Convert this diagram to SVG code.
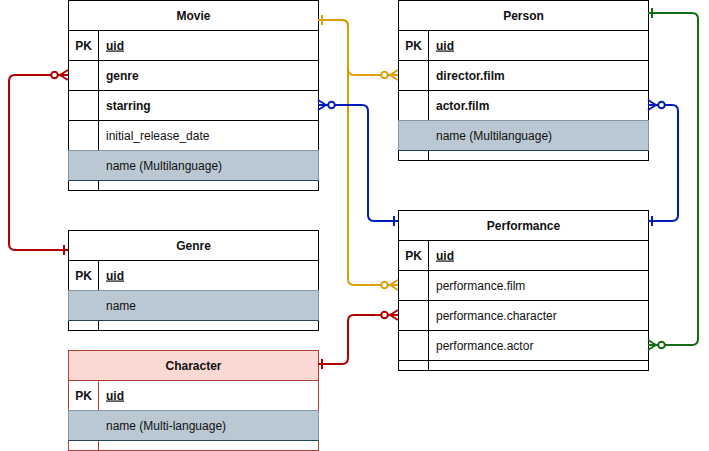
<svg xmlns="http://www.w3.org/2000/svg" width="709" height="451" viewBox="0 0 709 451">
<style>
text{font-family:"Liberation Sans",Arial,sans-serif;font-size:12px;fill:#111}
.h{font-weight:bold;text-anchor:middle}
.pk{font-weight:bold;text-anchor:middle}
.b{font-weight:bold}
.u{font-weight:bold;text-decoration:underline}
.box{fill:#fff;stroke:#000;stroke-width:1}
.ln{stroke:#000;stroke-width:1;fill:none}
.gr{fill:#bac8d3;stroke:#8796a3;stroke-width:1}
.grb{stroke:#23445d;stroke-width:1}
.rbox{fill:#fff;stroke:#ae4132;stroke-width:1}
.rln{stroke:#ae4132;stroke-width:1;fill:none}
.c{fill:none;stroke-width:2;stroke-linejoin:round}
</style>
<defs>
<marker id="zmR" markerUnits="userSpaceOnUse" markerWidth="1" markerHeight="1" overflow="visible" orient="auto-start-reverse"><path d="M-8 0L0 -5M-8 0L0 5M-8 0L0 0" fill="none" stroke="#B20000" stroke-width="2"/><circle cx="-13.5" cy="0" r="3.3" fill="#fff" stroke="#B20000" stroke-width="2"/></marker>
<marker id="oR" markerUnits="userSpaceOnUse" markerWidth="1" markerHeight="1" overflow="visible" orient="auto-start-reverse"><path d="M-4 -5L-4 5" stroke="#B20000" stroke-width="2"/></marker>
<marker id="zmY" markerUnits="userSpaceOnUse" markerWidth="1" markerHeight="1" overflow="visible" orient="auto-start-reverse"><path d="M-8 0L0 -5M-8 0L0 5M-8 0L0 0" fill="none" stroke="#d99f05" stroke-width="2"/><circle cx="-13.5" cy="0" r="3.3" fill="#fff" stroke="#d99f05" stroke-width="2"/></marker>
<marker id="oY" markerUnits="userSpaceOnUse" markerWidth="1" markerHeight="1" overflow="visible" orient="auto-start-reverse"><path d="M-4 -5L-4 5" stroke="#d99f05" stroke-width="2"/></marker>
<marker id="zmB" markerUnits="userSpaceOnUse" markerWidth="1" markerHeight="1" overflow="visible" orient="auto-start-reverse"><path d="M-8 0L0 -5M-8 0L0 5M-8 0L0 0" fill="none" stroke="#001DBC" stroke-width="2"/><circle cx="-13.5" cy="0" r="3.3" fill="#fff" stroke="#001DBC" stroke-width="2"/></marker>
<marker id="oB" markerUnits="userSpaceOnUse" markerWidth="1" markerHeight="1" overflow="visible" orient="auto-start-reverse"><path d="M-4 -5L-4 5" stroke="#001DBC" stroke-width="2"/></marker>
<marker id="zmG" markerUnits="userSpaceOnUse" markerWidth="1" markerHeight="1" overflow="visible" orient="auto-start-reverse"><path d="M-8 0L0 -5M-8 0L0 5M-8 0L0 0" fill="none" stroke="#146b14" stroke-width="2"/><circle cx="-13.5" cy="0" r="3.3" fill="#fff" stroke="#146b14" stroke-width="2"/></marker>
<marker id="oG" markerUnits="userSpaceOnUse" markerWidth="1" markerHeight="1" overflow="visible" orient="auto-start-reverse"><path d="M-4 -5L-4 5" stroke="#146b14" stroke-width="2"/></marker>
</defs>

<g id="movie">
<rect class="box" x="68.5" y="0.5" width="250" height="190"/>
<path class="ln" d="M68.5 30.5H318.5M68.5 60.5H318.5M68.5 90.5H318.5M68.5 120.5H318.5M98.5 30.5V190.5"/>
<rect class="gr" x="68.5" y="150.5" width="250" height="30"/>
<path class="grb" d="M68.5 180.5H318.5"/>
<text class="h" x="193.5" y="19.5">Movie</text>
<text class="pk" x="83.5" y="49.5">PK</text>
<text class="u" x="106" y="49.5">uid</text>
<text class="b" x="106" y="79.5">genre</text>
<text class="b" x="106" y="109.5">starring</text>
<text x="106" y="139.5">initial_release_date</text>
<text x="106" y="169.5">name (Multilanguage)</text>
</g>

<g id="person">
<rect class="box" x="398.5" y="0.5" width="250" height="160"/>
<path class="ln" d="M398.5 30.5H648.5M398.5 60.5H648.5M398.5 90.5H648.5M428.5 30.5V160.5"/>
<rect class="gr" x="398.5" y="120.5" width="250" height="30"/>
<path class="grb" d="M398.5 150.5H648.5"/>
<text class="h" x="523.5" y="19.5">Person</text>
<text class="pk" x="413.5" y="49.5">PK</text>
<text class="u" x="436" y="49.5">uid</text>
<text class="b" x="436" y="79.5">director.film</text>
<text class="b" x="436" y="109.5">actor.film</text>
<text x="436" y="139.5">name (Multilanguage)</text>
</g>

<g id="genre">
<rect class="box" x="68.5" y="230.5" width="250" height="100"/>
<path class="ln" d="M68.5 260.5H318.5M98.5 260.5V330.5"/>
<rect class="gr" x="68.5" y="290.5" width="250" height="30"/>
<path class="grb" d="M68.5 320.5H318.5"/>
<text class="h" x="193.5" y="249.5">Genre</text>
<text class="pk" x="83.5" y="279.5">PK</text>
<text class="u" x="106" y="279.5">uid</text>
<text x="106" y="309.5">name</text>
</g>

<g id="character">
<rect class="rbox" x="68.5" y="350.5" width="250" height="100"/>
<rect x="68.5" y="350.5" width="250" height="30" fill="#fad9d5" stroke="#ae4132"/>
<path class="rln" d="M98.5 380.5V450.5"/>
<rect class="gr" x="68.5" y="410.5" width="250" height="30"/>
<path class="grb" d="M68.5 440.5H318.5"/>
<text class="h" x="193.5" y="369.5">Character</text>
<text class="pk" x="83.5" y="399.5">PK</text>
<text class="u" x="106" y="399.5">uid</text>
<text x="106" y="429.5">name (Multi-language)</text>
</g>

<g id="performance">
<rect class="box" x="398.5" y="210.5" width="250" height="160"/>
<path class="ln" d="M398.5 240.5H648.5M398.5 270.5H648.5M398.5 300.5H648.5M398.5 330.5H648.5M398.5 360.5H648.5M428.5 240.5V370.5"/>
<text class="h" x="523.5" y="229.5">Performance</text>
<text class="pk" x="413.5" y="259.5">PK</text>
<text class="u" x="436" y="259.5">uid</text>
<text x="436" y="289.5">performance.film</text>
<text x="436" y="319.5">performance.character</text>
<text x="436" y="349.5">performance.actor</text>
</g>

<g id="connectors">
<path class="c" stroke="#B20000" d="M68 75H15Q9 75 9 81V244Q9 250 15 250H68" marker-start="url(#zmR)" marker-end="url(#oR)"/>
<path class="c" stroke="#d99f05" d="M318 20H342Q348 20 348 26V69Q348 75 354 75H398" marker-start="url(#oY)" marker-end="url(#zmY)"/>
<path class="c" stroke="#d99f05" d="M318 20H342Q348 20 348 26V279Q348 285 354 285H398" marker-start="url(#oY)" marker-end="url(#zmY)"/>
<path class="c" stroke="#001DBC" d="M318 105H362Q368 105 368 111V215Q368 221 374 221H398" marker-start="url(#zmB)" marker-end="url(#oB)"/>
<path class="c" stroke="#001DBC" d="M648 105H672Q678 105 678 111V215Q678 221 672 221H648" marker-start="url(#zmB)" marker-end="url(#oB)"/>
<path class="c" stroke="#146b14" d="M648 13H692Q698 13 698 19V339Q698 345 692 345H648" marker-start="url(#oG)" marker-end="url(#zmG)"/>
<path class="c" stroke="#B20000" d="M318 364H342Q348 364 348 358V321Q348 315 354 315H398" marker-start="url(#oR)" marker-end="url(#zmR)"/>
</g>
</svg>
